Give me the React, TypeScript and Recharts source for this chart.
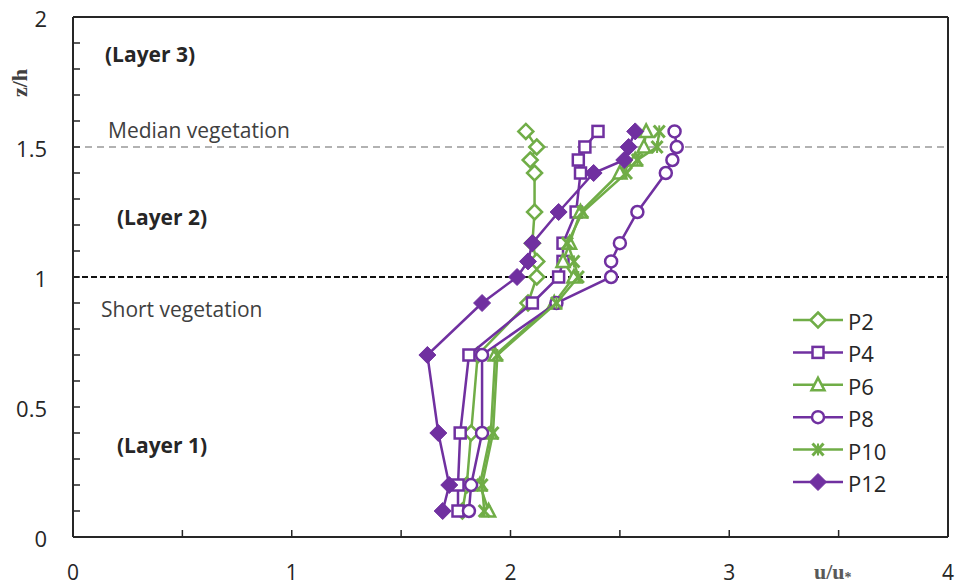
import React from 'react';
import {
  ScatterChart,
  Scatter,
  XAxis,
  YAxis,
  ReferenceLine,
} from 'recharts';

// z/h levels where the velocity profiles were sampled
const zLevels = [0.1, 0.2, 0.4, 0.7, 0.9, 1.0, 1.06, 1.13, 1.25, 1.4, 1.45, 1.5, 1.56];

// u/u*, same order as zLevels
const p2 = [1.78, 1.8, 1.82, 1.85, 2.08, 2.12, 2.12, 2.1, 2.11, 2.11, 2.09, 2.12, 2.07];
const p4 = [1.76, 1.76, 1.77, 1.81, 2.1, 2.22, 2.24, 2.24, 2.3, 2.32, 2.31, 2.34, 2.4];
const p6 = [1.9, 1.86, 1.91, 1.93, 2.2, 2.29, 2.24, 2.27, 2.32, 2.5, 2.57, 2.61, 2.62];
const p8 = [1.81, 1.82, 1.87, 1.87, 2.21, 2.46, 2.46, 2.5, 2.58, 2.71, 2.74, 2.76, 2.75];
const p10 = [1.88, 1.87, 1.92, 1.94, 2.21, 2.31, 2.29, 2.26, 2.33, 2.53, 2.58, 2.67, 2.68];
const p12 = [1.69, 1.72, 1.67, 1.62, 1.87, 2.03, 2.08, 2.1, 2.22, 2.38, 2.52, 2.54, 2.57];

const xTicks = [0, 0.5, 1, 1.5, 2, 2.5, 3, 3.5, 4];
const yTicks = [0, 0.1, 0.2, 0.3, 0.4, 0.5, 0.6, 0.7, 0.8, 0.9, 1, 1.1, 1.2, 1.3, 1.4, 1.5, 1.6, 1.7, 1.8, 1.9, 2];

const GREEN = '#70ad47';
const PURPLE = '#7030a0';
const FONT = '"Open Sans", "DejaVu Sans", sans-serif';

type Kind = 'diamond' | 'square' | 'triangle' | 'circle' | 'star' | 'fdiamond';

const series: { name: string; color: string; kind: Kind; u: number[] }[] = [
  { name: 'P2', color: GREEN, kind: 'diamond', u: p2 },
  { name: 'P4', color: PURPLE, kind: 'square', u: p4 },
  { name: 'P6', color: GREEN, kind: 'triangle', u: p6 },
  { name: 'P8', color: PURPLE, kind: 'circle', u: p8 },
  { name: 'P10', color: GREEN, kind: 'star', u: p10 },
  { name: 'P12', color: PURPLE, kind: 'fdiamond', u: p12 },
];

function Marker({ kind, cx, cy, color }: { kind: Kind; cx: number; cy: number; color: string }) {
  const sw = 2.5;
  switch (kind) {
    case 'diamond':
      return (
        <path
          d={`M${cx},${cy - 7.5} L${cx + 7.5},${cy} L${cx},${cy + 7.5} L${cx - 7.5},${cy} Z`}
          fill="#fff"
          stroke={color}
          strokeWidth={sw}
        />
      );
    case 'square':
      return <rect x={cx - 5.5} y={cy - 5.5} width={11} height={11} fill="#fff" stroke={color} strokeWidth={sw} />;
    case 'triangle':
      return (
        <path
          d={`M${cx},${cy - 7} L${cx + 6.5},${cy + 5.5} L${cx - 6.5},${cy + 5.5} Z`}
          fill="#fff"
          stroke={color}
          strokeWidth={sw}
        />
      );
    case 'circle':
      return <circle cx={cx} cy={cy} r={6} fill="#fff" stroke={color} strokeWidth={sw} />;
    case 'star':
      return (
        <g stroke={color} strokeWidth={3}>
          <line x1={cx - 5.5} y1={cy - 6} x2={cx + 5.5} y2={cy + 6} />
          <line x1={cx - 5.5} y1={cy + 6} x2={cx + 5.5} y2={cy - 6} />
          <line x1={cx} y1={cy - 6} x2={cx} y2={cy + 6} strokeWidth={2} />
        </g>
      );
    default:
      return (
        <path
          d={`M${cx},${cy - 8.5} L${cx + 8.5},${cy} L${cx},${cy + 8.5} L${cx - 8.5},${cy} Z`}
          fill={color}
          stroke={color}
          strokeWidth={1}
        />
      );
  }
}

const YTick = (props: any) => {
  const { x, y, payload } = props;
  const v = payload.value;
  const major = Math.abs(v * 2 - Math.round(v * 2)) < 1e-6;
  return (
    <g>
      <line x1={x} x2={x + 7} y1={y} y2={y} stroke="#262626" strokeWidth={1.5} />
      {major && (
        <text x={x - 26} y={y + 1} textAnchor="end" dominantBaseline="central" fontFamily={FONT} fontSize={22} fill="#262626">
          {v}
        </text>
      )}
    </g>
  );
};

const XTick = (props: any) => {
  const { x, y, payload } = props;
  const v = payload.value;
  const major = Number.isInteger(v);
  return (
    <g>
      <line x1={x} x2={x} y1={y} y2={y - 7} stroke="#262626" strokeWidth={1.5} />
      {major && (
        <text x={x} y={y + 35} textAnchor="middle" dominantBaseline="central" fontFamily={FONT} fontSize={21} fill="#262626">
          {v}
        </text>
      )}
    </g>
  );
};

function LegendBox({ x, y }: { x: number; y: number }) {
  return (
    <g transform={`translate(${x},${y})`}>
      {series.map((s, i) => {
        const cy = i * 32.4;
        return (
          <g key={s.name}>
            <line x1={0} x2={50} y1={cy} y2={cy} stroke={s.color} strokeWidth={2.5} />
            <Marker kind={s.kind} cx={25} cy={cy} color={s.color} />
            <text x={55} y={cy + 1} dominantBaseline="central" fontFamily={FONT} fontSize={22} fill="#262626">
              {s.name}
            </text>
          </g>
        );
      })}
    </g>
  );
}

export default function App() {
  return (
    <div style={{ position: 'absolute', left: 0, top: 0, background: '#fff' }}>
      <ScatterChart width={957} height={587} margin={{ top: 17, right: 9, left: 13, bottom: 0 }}>
        <XAxis
          type="number"
          dataKey="u"
          domain={[0, 4]}
          ticks={xTicks}
          interval={0}
          tickSize={0}
          tickMargin={0}
          tick={<XTick />}
          height={50}
          axisLine={{ stroke: '#262626', strokeWidth: 2 }}
          tickLine={false}
          allowDataOverflow
        />
        <YAxis
          type="number"
          dataKey="z"
          domain={[0, 2]}
          ticks={yTicks}
          interval={0}
          tickSize={0}
          tickMargin={0}
          tick={<YTick />}
          width={60}
          axisLine={{ stroke: '#262626', strokeWidth: 2 }}
          tickLine={false}
          allowDataOverflow
        />
        <ReferenceLine y={2} stroke="#262626" strokeWidth={2} />
        <ReferenceLine x={4} stroke="#262626" strokeWidth={2} />
        <ReferenceLine y={1.5} stroke="#999" strokeWidth={1.5} strokeDasharray="7 5" />
        <ReferenceLine y={1} stroke="#111" strokeWidth={2} strokeDasharray="6 3" />
        {series.map((s) => (
          <Scatter
            key={s.name}
            name={s.name}
            data={zLevels.map((z, i) => ({ z, u: s.u[i] }))}
            line={{ stroke: s.color, strokeWidth: 2.5 }}
            lineType="joint"
            isAnimationActive={false}
            shape={(p: any) => <Marker kind={s.kind} cx={p.cx} cy={p.cy} color={s.color} />}
          />
        ))}
        <LegendBox x={793} y={320} />
        <g fontFamily={FONT} fill="#262626">
          <text x={105} y={62} fontSize={21} fontWeight="bold">(Layer 3)</text>
          <text x={108} y={138} fontSize={21} fill="#404040">Median vegetation</text>
          <text x={117} y={225} fontSize={21} fontWeight="bold">(Layer 2)</text>
          <text x={101} y={317} fontSize={21} fill="#404040">Short vegetation</text>
          <text x={117} y={453} fontSize={21} fontWeight="bold">(Layer 1)</text>
        </g>
        <text
          x={19}
          y={83}
          transform="rotate(-90 19 83)"
          textAnchor="middle"
          dominantBaseline="central"
          fontFamily='"Liberation Serif", serif'
          fontWeight="bold"
          fontSize={22}
          fill="#404040"
        >
          z/h
        </text>
        <text
          x={814}
          y={579}
          fontFamily='"Liberation Serif", serif'
          fontWeight="bold"
          fontSize={22}
          fill="#595959"
        >
          u/u<tspan fontSize={14} dy={3}>*</tspan>
        </text>
      </ScatterChart>
    </div>
  );
}
